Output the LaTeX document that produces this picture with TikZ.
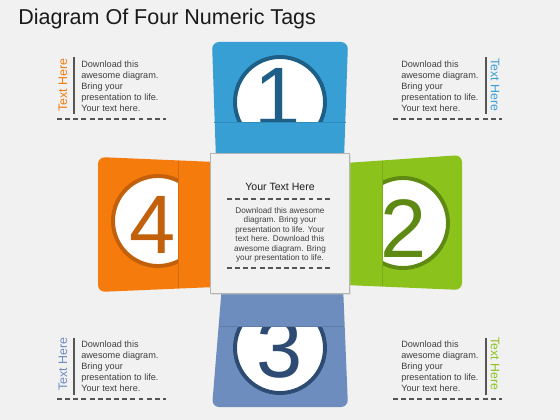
\documentclass[tikz,border=0pt]{standalone}
\usepackage{fontspec}
\setmainfont{Liberation Sans}
\definecolor{bg}{HTML}{F1F1F1}
\definecolor{titleblack}{HTML}{1A1A1A}
\definecolor{txtgray}{HTML}{404040}
\definecolor{bargray}{HTML}{555555}
\definecolor{boxgray}{HTML}{B4B4B4}
\definecolor{tagblue}{HTML}{379FD3}
\definecolor{ringblue}{HTML}{1E5F88}
\definecolor{taggreen}{HTML}{8CC21C}
\definecolor{ringgreen}{HTML}{5E8A14}
\definecolor{tagorange}{HTML}{F47B0C}
\definecolor{ringorange}{HTML}{C2600B}
\definecolor{tagslate}{HTML}{6C8DBE}
\definecolor{ringslate}{HTML}{2D4B73}

\begin{document}
\begin{tikzpicture}[x=0.025cm, y=-0.025cm,
    sidetext/.style={align=left, inner sep=0pt, text=txtgray, font=\fontsize{6.5}{7.8}\selectfont},
    tagtitle/.style={inner sep=0pt, font=\fontsize{8.8}{9}\selectfont},
    digit/.style={anchor=base, inner sep=0pt, font=\fontsize{59}{59}\selectfont},
    ring/.style={fill=white, line width=2.8pt},
    fold/.style={line width=0.5pt},
    sidebar/.style={line width=1pt, draw=bargray},
    dashline/.style={dash pattern=on 3.5pt off 2.3pt, line width=0.8pt, draw=bargray}
]

% Background
\fill[bg] (0,0) rectangle (560,420);
\useasboundingbox (0,0) rectangle (560,420);

% Title
\node[anchor=base west, inner sep=0pt, font=\fontsize{15.3}{16}\selectfont, text=titleblack] (title) at (18,25) {Diagram Of Four Numeric Tags};

% Tags
\fill[tagblue] (216,160) [rounded corners=5pt] -- (212,42) -- (348,42) [sharp corners] -- (344,160) -- cycle;
\fill[tagslate] (222,285) [rounded corners=5pt] -- (212,407) -- (348,407) [sharp corners] -- (343,285) -- cycle;
\fill[tagorange] (215,162) [rounded corners=5pt] -- (98,157) -- (98,292) [sharp corners] -- (215,287) -- cycle;
\fill[taggreen] (345,163) [rounded corners=5pt] -- (462,155) -- (462,290) [sharp corners] -- (345,285) -- cycle;

% Rings and numbers
\begin{scope}
  \clip (200,40) rectangle (360,122);
  \draw[ring, draw=ringblue] (280,102) circle[radius=45];
  \node[digit, text=ringblue] (one) at (278,126) {1};
\end{scope}
\draw[fold, tagblue!88!black] (214,122) -- (346,122);

\begin{scope}
  \clip (382,150) rectangle (470,300);
  \draw[ring, draw=ringgreen] (403,223) circle[radius=45];
  \node[digit, text=ringgreen] (two) at (404,257) {2};
\end{scope}
\draw[fold, taggreen!88!black] (382,161) -- (382,286);

\begin{scope}
  \clip (200,326) rectangle (360,410);
  \draw[ring, draw=ringslate] (280,348) circle[radius=45];
  \node[digit, text=ringslate] (three) at (280,377) {3};
\end{scope}
\draw[fold, tagslate!88!black] (219,326) -- (344,326);

\begin{scope}
  \clip (90,150) rectangle (178,300);
  \draw[ring, draw=ringorange] (158,221) circle[radius=45];
  \node[digit, text=ringorange] (four) at (153,253) {4};
\end{scope}
\draw[fold, tagorange!88!black] (178,161) -- (178,288);

% Centre box
\fill[black!25, opacity=0.35] (212,155) rectangle (351,295);
\draw[boxgray, fill=bg, line width=0.6pt] (210,153) rectangle (349,293);
\node[inner sep=0pt, font=\fontsize{7.5}{9}\selectfont, text=titleblack] (head) at (280,187) {Your Text Here};
\draw[dashline] (227,199) -- (330,199);
\node[align=center, inner sep=0pt, text=txtgray, font=\fontsize{5.85}{6.7}\selectfont] (body) at (280,235) {Download this awesome\\diagram. Bring your\\presentation to life. Your\\text here. Download this\\awesome diagram. Bring\\your presentation to life.};
\draw[dashline] (227,268) -- (330,268);

% Side notes
\draw[sidebar] (74,57) -- (74,114);
\node[tagtitle, rotate=90, text=tagorange] (tl label) at (63,85) {Text Here};
\node[sidetext, anchor=west] (tl text) at (81,86) {Download this\\awesome diagram.\\Bring your\\presentation to life.\\Your text here.};
\draw[dashline] (57,119) -- (166,119);

\draw[sidebar] (486,57) -- (486,114);
\node[tagtitle, rotate=-90, text=tagblue] (tr label) at (495,85) {Text Here};
\node[sidetext, anchor=west] (tr text) at (401,86) {Download this\\awesome diagram.\\Bring your\\presentation to life.\\Your text here.};
\draw[dashline] (393,119) -- (502,119);

\draw[sidebar] (74,338) -- (74,395);
\node[tagtitle, rotate=90, text=tagslate] (bl label) at (63,364) {Text Here};
\node[sidetext, anchor=west] (bl text) at (81,366) {Download this\\awesome diagram.\\Bring your\\presentation to life.\\Your text here.};
\draw[dashline] (57,399) -- (166,399);

\draw[sidebar] (486,338) -- (486,395);
\node[tagtitle, rotate=-90, text=taggreen] (br label) at (495,364) {Text Here};
\node[sidetext, anchor=west] (br text) at (401,366) {Download this\\awesome diagram.\\Bring your\\presentation to life.\\Your text here.};
\draw[dashline] (393,399) -- (502,399);

\end{tikzpicture}
\end{document}
